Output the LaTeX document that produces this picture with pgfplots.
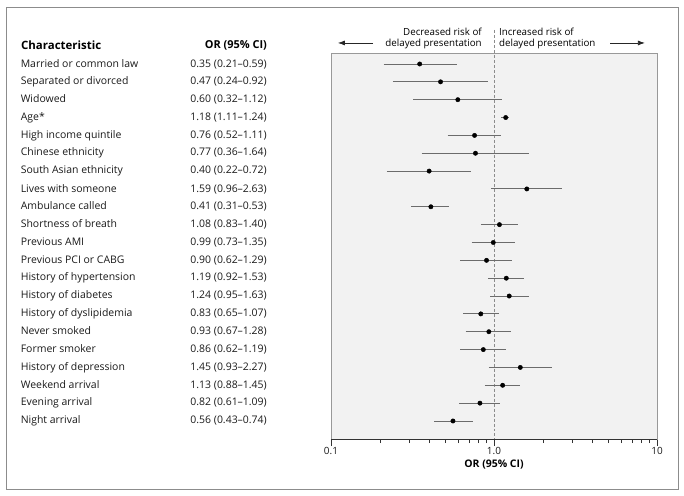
\documentclass[border=0pt]{standalone}
\usepackage{pgfplots}
\pgfplotsset{compat=1.18}
\usepackage{fontspec}
\setmainfont{Open Sans}
\usetikzlibrary{arrows.meta}
\newcommand{\rw}[2]{\makebox[170bp][l]{#1}\makebox[76bp][r]{#2}\hspace*{64bp}}
\begin{document}
\begin{tikzpicture}
\begin{axis}[
  at={(0,0)}, anchor=south west,
  scale only axis, width=326bp, height=386bp,
  xmode=log, xmin=0.1, xmax=10,
  ymin=0.384, ymax=22.01, y dir=reverse,
  ytick={1,...,21},
  yticklabels={
    \rw{Married or common law}{0.35 (0.21–0.59)},
    \rw{Separated or divorced}{0.47 (0.24–0.92)},
    \rw{Widowed}{0.60 (0.32–1.12)},
    \rw{Age*}{1.18 (1.11–1.24)},
    \rw{High income quintile}{0.76 (0.52–1.11)},
    \rw{Chinese ethnicity}{0.77 (0.36–1.64)},
    \rw{South Asian ethnicity}{0.40 (0.22–0.72)},
    \rw{Lives with someone}{1.59 (0.96–2.63)},
    \rw{Ambulance called}{0.41 (0.31–0.53)},
    \rw{Shortness of breath}{1.08 (0.83–1.40)},
    \rw{Previous AMI}{0.99 (0.73–1.35)},
    \rw{Previous PCI or CABG}{0.90 (0.62–1.29)},
    \rw{History of hypertension}{1.19 (0.92–1.53)},
    \rw{History of diabetes}{1.24 (0.95–1.63)},
    \rw{History of dyslipidemia}{0.83 (0.65–1.07)},
    \rw{Never smoked}{0.93 (0.67–1.28)},
    \rw{Former smoker}{0.86 (0.62–1.19)},
    \rw{History of depression}{1.45 (0.93–2.27)},
    \rw{Weekend arrival}{1.13 (0.88–1.45)},
    \rw{Evening arrival}{0.82 (0.61–1.09)},
    \rw{Night arrival}{0.56 (0.43–0.74)}
  },
  yticklabel style={anchor=east, inner sep=0pt, font=\fontsize{10.5}{12}\selectfont, text=black!90},
  ytick style={draw=none},
  ytick align=inside,
  xtick={0.1,1,10}, xticklabels={0.1,1.0,10},
  minor xtick={0.2,0.3,0.4,0.5,0.6,0.7,0.8,0.9,2,3,4,5,6,7,8,9},
  xtick align=outside, xtick pos=bottom,
  major tick length=7bp, minor tick length=4bp,
  every tick/.style={black!80},
  xticklabel style={font=\fontsize{10}{11}\selectfont, text=black!90, inner sep=1bp},
  /pgf/number format/assume math mode=true,
  axis line style={draw=gray!80},
  axis background/.style={fill=gray!10},
  clip=false,
  xlabel={\textbf{OR (95\% CI)}},
  xlabel style={at={(axis description cs:0.5,-0.0674)}, anchor=center, inner sep=0pt, font=\fontsize{10.5}{12}\selectfont},
]
\draw[black!80] (axis description cs:0,0) -- (axis description cs:1,0);
\addplot[gray!90, densely dashed, line width=0.5bp] coordinates {(1,-0.905) (1,22.01)};
\addplot[gray!85!black, line width=0.9bp, unbounded coords=jump, forget plot] coordinates {
 (0.21,1) (0.59,1) (nan,nan)
 (0.24,2) (0.92,2) (nan,nan)
 (0.32,3) (1.12,3) (nan,nan)
 (1.11,4) (1.24,4) (nan,nan)
 (0.52,5) (1.11,5) (nan,nan)
 (0.36,6) (1.64,6) (nan,nan)
 (0.22,7) (0.72,7) (nan,nan)
 (0.96,8) (2.63,8) (nan,nan)
 (0.31,9) (0.53,9) (nan,nan)
 (0.83,10) (1.40,10) (nan,nan)
 (0.73,11) (1.35,11) (nan,nan)
 (0.62,12) (1.29,12) (nan,nan)
 (0.92,13) (1.53,13) (nan,nan)
 (0.95,14) (1.63,14) (nan,nan)
 (0.65,15) (1.07,15) (nan,nan)
 (0.67,16) (1.28,16) (nan,nan)
 (0.62,17) (1.19,17) (nan,nan)
 (0.93,18) (2.27,18) (nan,nan)
 (0.88,19) (1.45,19) (nan,nan)
 (0.61,20) (1.09,20) (nan,nan)
 (0.43,21) (0.74,21)
};
\addplot[only marks, mark=*, mark size=2.2bp, black] coordinates {
 (0.35,1) (0.47,2) (0.60,3) (1.18,4) (0.76,5) (0.77,6) (0.40,7)
 (1.59,8) (0.41,9) (1.08,10) (0.99,11) (0.90,12) (1.19,13) (1.24,14)
 (0.83,15) (0.93,16) (0.86,17) (1.45,18) (1.13,19) (0.82,20) (0.56,21)
};
\node[anchor=west, inner sep=0pt, font=\fontsize{11.5}{13}\selectfont\bfseries] at (axis description cs:-0.951,1.0207) {Characteristic};
\node[anchor=east, inner sep=0pt, font=\fontsize{11}{13}\selectfont\bfseries] at (axis description cs:-0.196,1.0207) {OR (95\% CI)};
\node[anchor=east, align=right, inner sep=0pt, font=\fontsize{9.8}{11}\selectfont] at (axis description cs:0.463,1.0376) {Decreased risk of\\delayed presentation};
\node[anchor=west, align=left, inner sep=0pt, font=\fontsize{9.8}{11}\selectfont] at (axis description cs:0.515,1.0376) {Increased risk of\\delayed presentation};
\draw[-{Latex[length=7bp,width=5bp]}, line width=0.8bp, black!85] (axis description cs:0.129,1.026) -- (axis description cs:0.021,1.026);
\draw[-{Latex[length=7bp,width=5bp]}, line width=0.8bp, black!85] (axis description cs:0.856,1.026) -- (axis description cs:0.963,1.026);
\end{axis}
\draw[gray!90, line width=0.8bp] (-325bp,-50bp) rectangle (347bp,432bp);
\useasboundingbox (-331bp,-57bp) rectangle (353bp,439bp);
\end{tikzpicture}
\end{document}
